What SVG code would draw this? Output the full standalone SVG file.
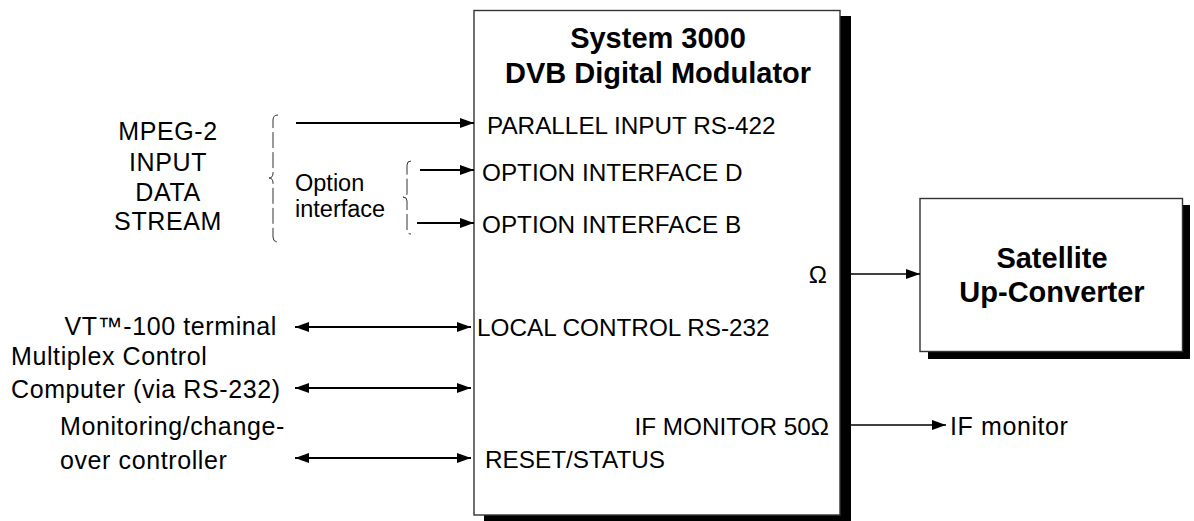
<svg xmlns="http://www.w3.org/2000/svg" width="1194" height="521" viewBox="0 0 1194 521">
  <style>
    .t { font-family: "Liberation Sans", Arial, sans-serif; font-size: 24.3px; fill: #000; }
    .lbl { font-family: "Liberation Sans", Arial, sans-serif; font-size: 25px; letter-spacing: 0.6px; fill: #000; }
    .opt { font-family: "Liberation Sans", Arial, sans-serif; font-size: 23.5px; fill: #000; }
    .b { font-family: "Liberation Sans", Arial, sans-serif; font-size: 29px; font-weight: bold; fill: #000; }
    .box { fill: #fff; stroke: #333; stroke-width: 1.4; }
    .shadow { fill: #000; }
    .wire { stroke: #000; stroke-width: 2; fill: none; }
    .wire-thin { stroke: #000; stroke-width: 1.4; fill: none; }
    .brace { stroke: #333; stroke-width: 1; fill: none; stroke-dasharray: 16 4; }
  </style>
  <defs>
    <marker id="head" viewBox="0 0 14 10" refX="14" refY="5" markerWidth="14" markerHeight="10" markerUnits="userSpaceOnUse" orient="auto-start-reverse">
      <path d="M0,0 L14,5 L0,10 z" fill="#000"/>
    </marker>
  </defs>

  <rect width="1194" height="521" fill="#fff"/>

  <!-- modulator unit -->
  <g id="modulator">
    <rect class="shadow" x="484" y="16" width="367" height="505"/>
    <rect class="box" x="474" y="10.5" width="366" height="504.5"/>
    <text class="b" x="658" y="48" text-anchor="middle">System 3000</text>
    <text class="b" x="658" y="83" text-anchor="middle">DVB Digital Modulator</text>
    <text class="t" x="487" y="134">PARALLEL INPUT RS-422</text>
    <text class="t" x="482" y="181">OPTION INTERFACE D</text>
    <text class="t" x="482" y="233">OPTION INTERFACE B</text>
    <text class="t" x="827" y="283" text-anchor="end">Ω</text>
    <text class="t" x="477" y="336">LOCAL CONTROL RS-232</text>
    <text class="t" x="829" y="435" text-anchor="end">IF MONITOR 50Ω</text>
    <text class="t" x="485" y="468">RESET/STATUS</text>
  </g>

  <!-- up-converter -->
  <g id="upconverter">
    <rect class="shadow" x="928" y="205" width="262" height="154"/>
    <rect class="box" x="920" y="198.5" width="262.5" height="153"/>
    <text class="b" x="1052" y="268" text-anchor="middle">Satellite</text>
    <text class="b" x="1052" y="301.5" text-anchor="middle">Up-Converter</text>
  </g>

  <!-- input stream labels -->
  <g id="mpeg-input">
    <text class="lbl" x="168" y="140" text-anchor="middle">MPEG-2</text>
    <text class="lbl" x="168" y="170.5" text-anchor="middle">INPUT</text>
    <text class="lbl" x="168" y="201" text-anchor="middle">DATA</text>
    <text class="lbl" x="168" y="230" text-anchor="middle">STREAM</text>
    <path class="brace" d="M278,115 Q273,115 273,120 L273,173 Q273,178 269,178 Q273,178 273,183 L273,237 Q273,242 278,242"/>
  </g>

  <g id="option-interface">
    <text class="opt" x="295" y="191">Option</text>
    <text class="opt" x="295" y="217">interface</text>
    <path class="brace" d="M411,161 Q407,161 407,165 L407,193 Q407,197 403,197 Q407,197 407,201 L407,230 Q407,234 411,234"/>
  </g>

  <g id="vt100">
    <text class="lbl" x="277" y="335" text-anchor="end">VT™-100 terminal</text>
  </g>

  <g id="multiplex">
    <text class="lbl" x="11" y="365">Multiplex Control</text>
    <text class="lbl" x="11" y="398">Computer (via RS-232)</text>
  </g>

  <g id="monitoring">
    <text class="lbl" x="60" y="435">Monitoring/change-</text>
    <text class="lbl" x="60" y="469">over controller</text>
  </g>

  <g id="if-monitor">
    <text class="lbl" x="950" y="435">IF monitor</text>
  </g>

  <!-- connectors -->
  <g id="connectors">
    <line class="wire" x1="296" y1="123" x2="474" y2="123" marker-end="url(#head)"/>
    <line class="wire" x1="420" y1="170" x2="474" y2="170" marker-end="url(#head)"/>
    <line class="wire" x1="417" y1="223" x2="474" y2="223" marker-end="url(#head)"/>
    <line class="wire" x1="295" y1="327" x2="471" y2="327" marker-start="url(#head)" marker-end="url(#head)"/>
    <line class="wire" x1="295" y1="388" x2="471" y2="388" marker-start="url(#head)" marker-end="url(#head)"/>
    <line class="wire" x1="295" y1="458" x2="471" y2="458" marker-start="url(#head)" marker-end="url(#head)"/>
    <line class="wire-thin" x1="851" y1="274" x2="920" y2="274" marker-end="url(#head)"/>
    <line class="wire-thin" x1="851" y1="425" x2="946" y2="425" marker-end="url(#head)"/>
  </g>
</svg>
